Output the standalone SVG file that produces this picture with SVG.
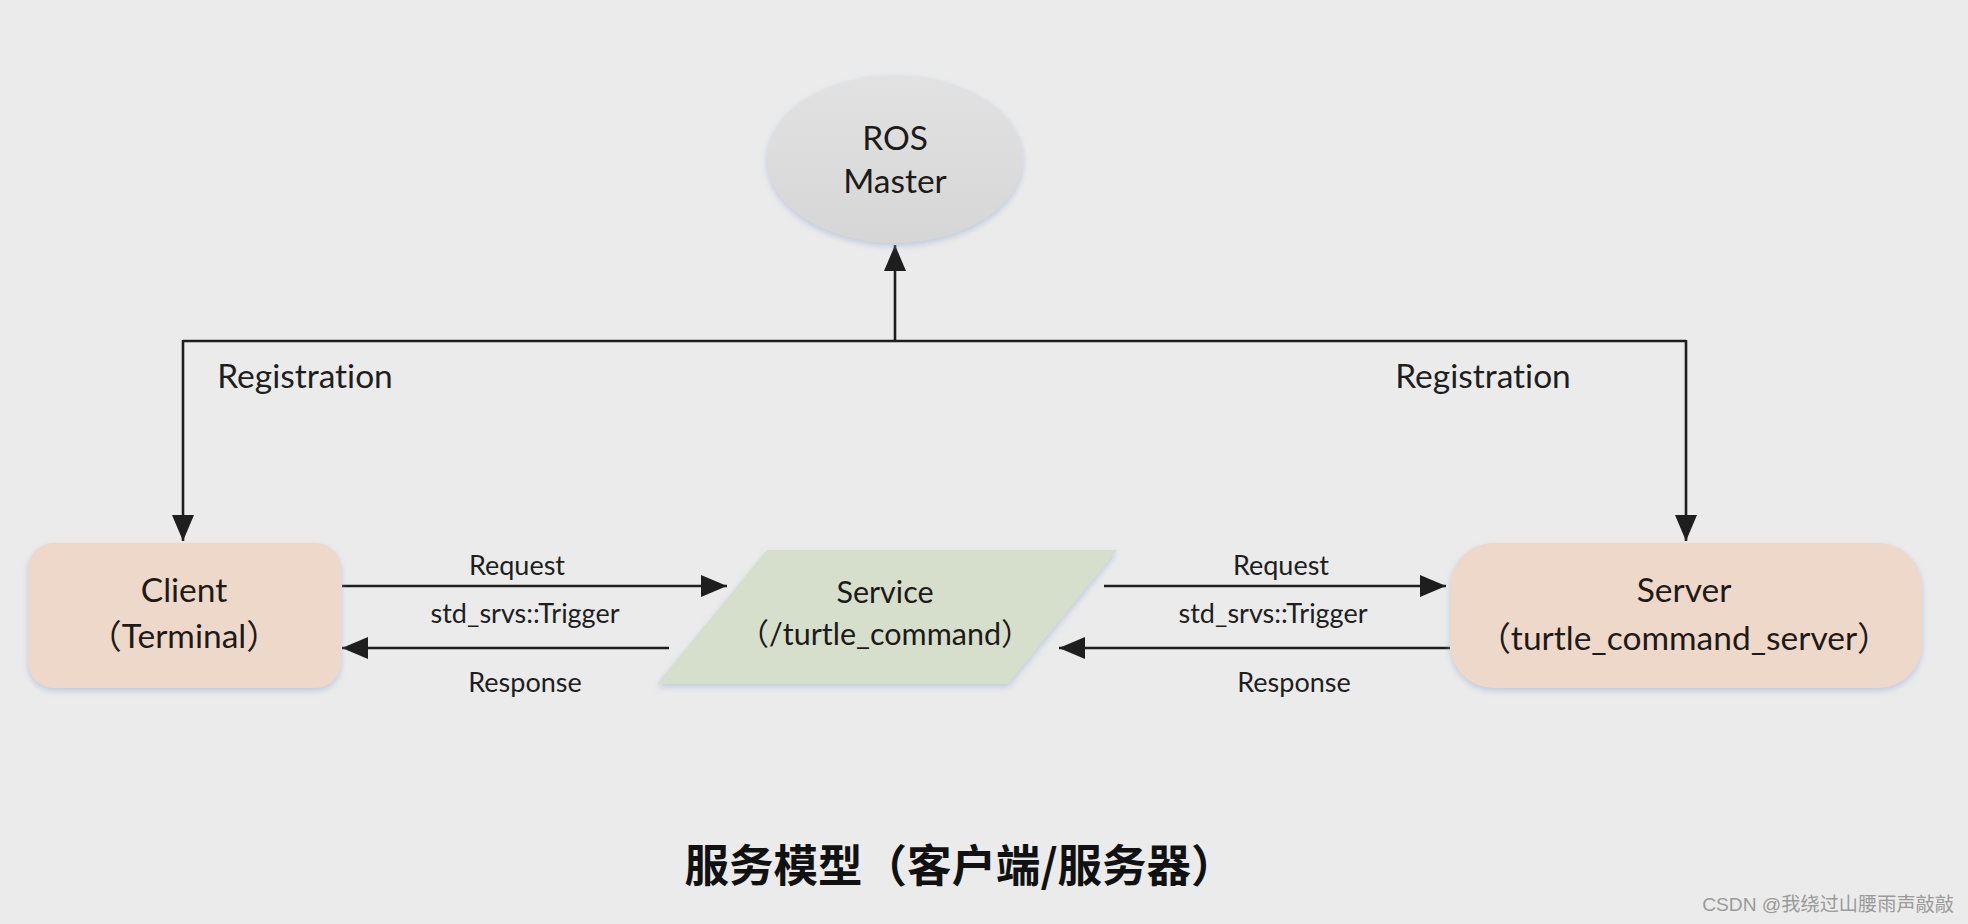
<svg xmlns="http://www.w3.org/2000/svg" width="1968" height="924" viewBox="0 0 1968 924">
<style>
.bg{fill:#ebebeb}
.edge{stroke:#1e1e1e;stroke-width:2.6;fill:none}
text{font-variant-ligatures:none}
.node-t{font-family:Lato,"Noto Sans CJK SC",sans-serif;font-size:33.5px;fill:#1e1a18;text-anchor:middle}
.svc-t{font-family:Lato,"Noto Sans CJK SC",sans-serif;font-size:30.5px;fill:#1e1a18;text-anchor:middle}
.lbl{font-family:Lato,"Noto Sans CJK SC",sans-serif;font-size:27px;fill:#1e1e1e;text-anchor:middle}
.reg{font-family:Lato,"Noto Sans CJK SC",sans-serif;font-size:33.5px;fill:#1e1e1e;text-anchor:middle}
.title{font-family:"Noto Sans CJK SC",sans-serif;font-size:44.5px;font-weight:bold;fill:#111;text-anchor:middle}
.wm{font-family:"Liberation Sans","Noto Sans CJK SC",sans-serif;font-size:19.2px;fill:#9a9a9a;text-anchor:end}
</style>
<defs>
<marker id="arr" markerUnits="userSpaceOnUse" markerWidth="26" markerHeight="22" refX="26" refY="11" orient="auto">
<path d="M0,0 L26,11 L0,22 z" fill="#1e1e1e"/>
</marker>
<linearGradient id="ellg" x1="0" y1="0" x2="0" y2="1">
<stop offset="0" stop-color="#e2e2e2"/>
<stop offset="1" stop-color="#d6d6d6"/>
</linearGradient>
<filter id="sh" x="-10%" y="-10%" width="120%" height="130%">
<feGaussianBlur in="SourceAlpha" stdDeviation="3"/>
<feOffset dx="0" dy="3" result="b"/>
<feFlood flood-color="#9fb4d6" flood-opacity="0.6"/>
<feComposite in2="b" operator="in"/>
<feMerge><feMergeNode/><feMergeNode in="SourceGraphic"/></feMerge>
</filter>
</defs>
<rect class="bg" x="0" y="0" width="1968" height="924"/>

<g id="connectors">
<path class="edge" d="M895,341 L895,245" marker-end="url(#arr)"/>
<path class="edge" d="M183,341 L1686,341"/>
<path class="edge" d="M183,340 L183,541" marker-end="url(#arr)"/>
<path class="edge" d="M1686,340 L1686,541" marker-end="url(#arr)"/>
<path class="edge" d="M342,586 L727,586" marker-end="url(#arr)"/>
<path class="edge" d="M669,648 L342,648" marker-end="url(#arr)"/>
<path class="edge" d="M1104,586 L1446,586" marker-end="url(#arr)"/>
<path class="edge" d="M1450,648 L1059,648" marker-end="url(#arr)"/>
<text class="reg" x="305" y="388">Registration</text>
<text class="reg" x="1483" y="388">Registration</text>
<text class="lbl" x="517" y="575">Request</text>
<text class="lbl" x="525" y="623">std_srvs::Trigger</text>
<text class="lbl" x="525" y="692">Response</text>
<text class="lbl" x="1281" y="575">Request</text>
<text class="lbl" x="1273" y="623">std_srvs::Trigger</text>
<text class="lbl" x="1294" y="692">Response</text>
</g>

<g id="ros-master">
<ellipse cx="895" cy="159" rx="128" ry="84" fill="url(#ellg)" filter="url(#sh)"/>
<text class="node-t" x="895" y="150">ROS</text>
<text class="node-t" x="895" y="193">Master</text>
</g>

<g id="client">
<rect x="28" y="543" width="313" height="145" rx="26" fill="#eed8ca" filter="url(#sh)"/>
<text class="node-t" x="184" y="602">Client</text>
<text class="node-t" x="184" y="648">（Terminal）</text>
</g>

<g id="service">
<polygon points="767,550 1117,550 1008,684 657,684" fill="#d5dfcc" filter="url(#sh)"/>
<text class="svc-t" x="885" y="603">Service</text>
<text class="svc-t" x="885" y="645">（/turtle_command）</text>
</g>

<g id="server">
<rect x="1450" y="543" width="472" height="145" rx="44" fill="#eed8ca" filter="url(#sh)"/>
<text class="node-t" x="1684" y="602">Server</text>
<text class="node-t" x="1684" y="650">（turtle_command_server）</text>
</g>

<text class="title" x="960" y="882">服务模型（客户端/服务器）</text>
<text class="wm" x="1954" y="911">CSDN @我绕过山腰雨声敲敲</text>
</svg>
